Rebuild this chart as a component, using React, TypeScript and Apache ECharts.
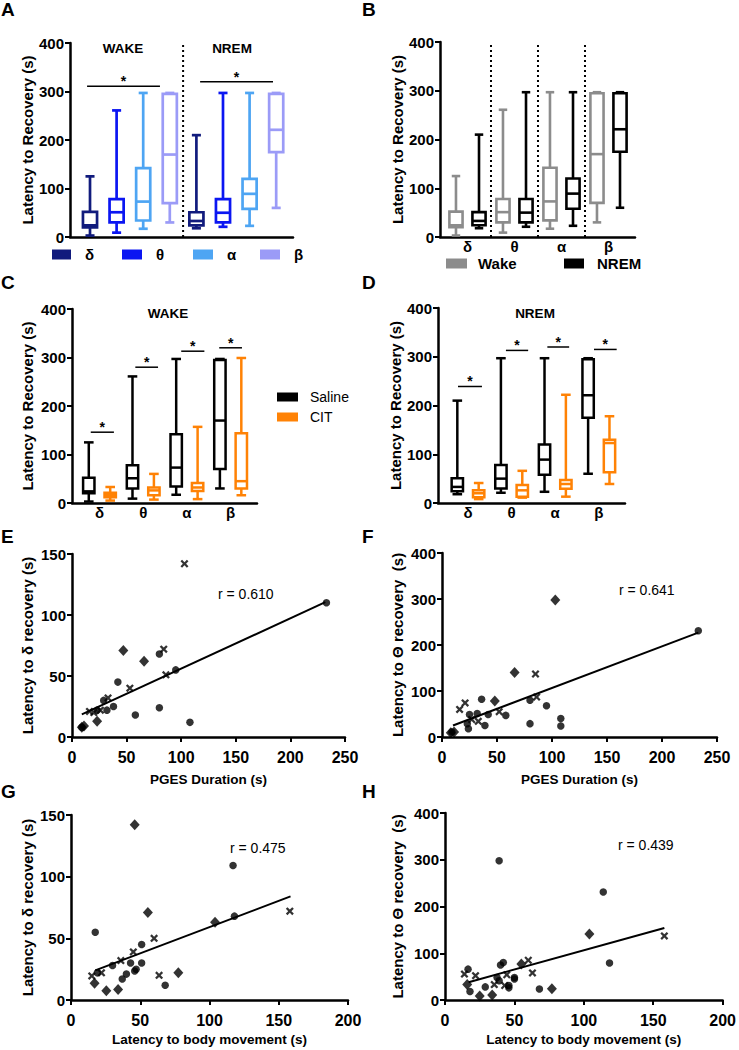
import React, { useEffect, useRef } from "react";
import * as echarts from "echarts";

const FONT = "'Liberation Sans', Arial, Helvetica, sans-serif";

// ---------- Box plot data: [min, q1, median, q3, max] for δ, θ, α, β ----------
const bandNames = ["δ", "θ", "α", "β"];
const wakeSaline = [
  [3, 20, 24, 52, 125],
  [9, 30, 51, 78, 261],
  [17, 34, 73, 142, 297],
  [30, 70, 170, 295, 297],
];
const nremSaline = [
  [18, 24, 33, 51, 210],
  [21, 30, 50, 78, 297],
  [23, 58, 89, 120, 297],
  [60, 175, 221, 295, 297],
];
const wakeCIT = [
  [5, 12, 17, 21, 33],
  [7, 16, 26, 32, 60],
  [8, 25, 32, 41, 157],
  [16, 30, 45, 144, 299],
];
const nremCIT = [
  [8, 12, 20, 26, 41],
  [11, 13, 26, 37, 66],
  [13, 29, 39, 47, 222],
  [39, 63, 123, 130, 178],
];

// significance bars: [xStart, xEnd, y]
const sigA = [
  [-0.11, 2.63, 311],
  [4.14, 6.88, 320],
];
const sigC = [
  [0.8, 1.33, 146],
  [1.82, 2.34, 280],
  [2.87, 3.4, 313],
  [3.74, 4.26, 320],
];
const sigD = [
  [0.77, 1.32, 239],
  [1.87, 2.38, 313],
  [2.82, 3.32, 320],
  [3.89, 4.41, 315],
];
const sepA = [3.5];
const sepB = [1.5, 2.5, 3.5];

// ---------- Scatter data: [x, y] ----------
const eCircles = [[233, 110], [80, 68], [95, 55], [42, 45], [38, 25], [32, 22], [58, 18], [80, 24], [108, 12], [29, 30], [23, 22], [9, 8]];
const eDiamonds = [[47, 71], [66, 62], [23, 13], [9, 8], [11, 9]];
const eCrosses = [[103, 142], [84, 72], [86, 51], [53, 40], [33, 32], [16, 21], [26, 22], [20, 20]];
const eFit = [[9, 18.5], [232, 110.5]];

const fCircles = [[233, 231], [36, 82], [80, 80], [95, 68], [42, 49], [58, 47], [32, 51], [25, 49], [39, 25], [80, 29], [108, 40], [108, 24], [23, 29], [24, 18], [9, 11]];
const fDiamonds = [[103, 298], [66, 140], [48, 78], [11, 11], [8, 9]];
const fCrosses = [[85, 137], [86, 87], [52, 55], [21, 74], [16, 60], [33, 34], [27, 38]];
const fFit = [[10, 25], [233, 227]];

const gCircles = [[117, 109], [17.5, 55], [51, 45], [118, 68], [30, 28], [19, 22], [37, 17], [40, 21], [43, 30], [51, 30], [46, 23.5], [47, 25], [68, 12]];
const gDiamonds = [[46, 142], [55.5, 71], [104, 63], [17, 13.5], [25.5, 7.6], [34, 8.6], [77.5, 22]];
const gCrosses = [[158, 72], [60, 50], [45, 39], [36, 32], [22, 22], [15, 19.5], [63.6, 20]];
const gFit = [[17.5, 24], [158.5, 84]];

const hCircles = [[39, 298], [114, 231], [118.5, 79], [16.6, 66], [42, 80], [40, 75], [18, 18], [29, 28], [50, 48], [50, 45], [68, 23.5], [46, 26], [46, 31], [37.5, 48], [39, 41]];
const hDiamonds = [[104, 141], [55, 77], [77, 24], [16, 33], [25, 8.5], [34, 10.7]];
const hCrosses = [[158, 137], [60, 85], [63, 58], [44.5, 54], [14, 55.5], [22, 52], [35.5, 33], [43, 31]];
const hFit = [[17, 38], [158, 154]];

// ---------- styles ----------
const bandColors = ["#111b7d", "#0b16f2", "#4ea5f3", "#9b9bf7"];
const GRAY = "#8c8c8c";
const ORANGE = "#ff8205";
const CROSS = "path://M0,1.6L1.6,0L4,2.4L6.4,0L8,1.6L5.6,4L8,6.4L6.4,8L4,5.6L1.6,8L0,6.4L2.4,4Z";

const boxItem = (boxW: number, capW: number, lw: number) => (_p: any, api: any) => {
  const x = api.value(0);
  const v = [1, 2, 3, 4, 5].map((i) => api.value(i));
  const c = api.visual("color");
  const y = (val: number) => api.coord([x, val])[1];
  const cx = api.coord([x, v[0]])[0];
  const yMin = y(v[0]), yQ1 = y(v[1]), yMd = y(v[2]), yQ3 = y(v[3]), yMax = y(v[4]);
  const w = api.size([boxW, 0])[0];
  const cw = api.size([capW, 0])[0];
  const st = { stroke: c, lineWidth: lw, fill: null };
  return {
    type: "group",
    children: [
      { type: "line", shape: { x1: cx, y1: yMax, x2: cx, y2: yQ3 }, style: st },
      { type: "line", shape: { x1: cx, y1: yQ1, x2: cx, y2: yMin }, style: st },
      { type: "line", shape: { x1: cx - cw / 2, y1: yMax, x2: cx + cw / 2, y2: yMax }, style: st },
      { type: "line", shape: { x1: cx - cw / 2, y1: yMin, x2: cx + cw / 2, y2: yMin }, style: st },
      { type: "rect", shape: { x: cx - w / 2, y: yQ3, width: w, height: yQ1 - yQ3 }, style: { fill: "#fff", stroke: c, lineWidth: lw } },
      { type: "line", shape: { x1: cx - w / 2, y1: yMd, x2: cx + w / 2, y2: yMd }, style: st },
    ],
  };
};

const sigItem = (_p: any, api: any) => {
  const a = api.coord([api.value(0), api.value(2)]);
  const b = api.coord([api.value(1), api.value(2)]);
  return {
    type: "group",
    children: [
      { type: "line", shape: { x1: a[0], y1: a[1], x2: b[0], y2: b[1] }, style: { stroke: "#000", lineWidth: 1.5 } },
      { type: "text", x: (a[0] + b[0]) / 2, y: a[1] - 5, style: { text: "*", fill: "#000", font: `bold 14px ${FONT}`, align: "center", verticalAlign: "middle" } },
    ],
  };
};

const sepItem = (_p: any, api: any) => {
  const x = api.value(0);
  const a = api.coord([x, 0]);
  const b = api.coord([x, 400]);
  return { type: "line", shape: { x1: a[0], y1: a[1], x2: b[0], y2: b[1] }, style: { stroke: "#000", lineWidth: 2, lineDash: [2, 3] } };
};

const axisLine = { show: true, onZero: false, lineStyle: { color: "#000", width: 2.5 } };
const tick = { show: true, length: 5, lineStyle: { color: "#000", width: 2 } };
const boldLabel = (size: number, margin: number) => ({ fontFamily: FONT, fontWeight: "bold", fontSize: size, color: "#000", margin });

const yAx = (gi: number, max: number, interval: number, name: string, gap: number) => ({
  type: "value", gridIndex: gi, min: 0, max, interval, name, nameLocation: "middle", nameGap: gap, nameRotate: 90,
  nameTextStyle: { fontFamily: FONT, fontWeight: "bold", fontSize: 15, color: "#000" },
  axisLine, axisTick: tick, axisLabel: boldLabel(15, 6), splitLine: { show: false },
});
const xBox = (gi: number, min: number, max: number, labels: boolean) => ({
  type: "value", gridIndex: gi, min, max, axisLine, axisTick: { show: false },
  axisLabel: labels
    ? { ...boldLabel(15, 2), customValues: [1, 2, 3, 4], formatter: (v: number) => bandNames[Math.round(v) - 1] }
    : { show: false },
  splitLine: { show: false },
});
const xSc = (gi: number, max: number, name: string, gap: number) => ({
  type: "value", gridIndex: gi, min: 0, max, interval: 50, name, nameLocation: "middle", nameGap: gap,
  nameTextStyle: { fontFamily: FONT, fontWeight: "bold", fontSize: 13.5, color: "#000" },
  axisLine, axisTick: tick, axisLabel: boldLabel(16, 12), splitLine: { show: false },
});

const boxSeries = (name: string, color: string, gi: number, data: number[][], w: number, cap: number, lw: number) => ({
  type: "custom", name, xAxisIndex: gi, yAxisIndex: gi, itemStyle: { color }, renderItem: boxItem(w, cap, lw), data, z: 3,
});
const sigSeries = (gi: number, data: number[][]) => ({ type: "custom", xAxisIndex: gi, yAxisIndex: gi, renderItem: sigItem, data, z: 4 });
const sepSeries = (gi: number, xs: number[]) => ({ type: "custom", xAxisIndex: gi, yAxisIndex: gi, renderItem: sepItem, data: xs.map((x) => [x, 0]), z: 2 });

const scatterSet = (gi: number, circles: number[][], diamonds: number[][], crosses: number[][], fit: number[][]) => [
  { type: "line", xAxisIndex: gi, yAxisIndex: gi, data: fit, symbol: "none", lineStyle: { color: "#000", width: 2 }, z: 2 },
  { type: "scatter", xAxisIndex: gi, yAxisIndex: gi, data: circles, symbol: "circle", symbolSize: 7.5, itemStyle: { color: "#000" }, z: 3 },
  { type: "scatter", xAxisIndex: gi, yAxisIndex: gi, data: diamonds, symbol: "diamond", symbolSize: [10, 11], itemStyle: { color: "#000" }, z: 3 },
  { type: "scatter", xAxisIndex: gi, yAxisIndex: gi, data: crosses, symbol: CROSS, symbolSize: 8, itemStyle: { color: "#000" }, z: 3 },
];

const legendItem = (name: string, left: number, top: number, bold: boolean, size: number, w: number, h: number, pad: number) => ({
  data: [{ name, icon: "rect" }], left, top, padding: 0, itemWidth: w, itemHeight: h, selectedMode: false,
  textStyle: { fontFamily: FONT, fontWeight: bold ? "bold" : "normal", fontSize: size, color: "#000", padding: [0, 0, 0, pad] },
});

const txt = (text: string, x: number, y: number, size: number, bold: boolean, align = "left") => ({
  type: "text", x, y, style: { text, fill: "#000", font: `${bold ? "bold " : ""}${size}px ${FONT}`, align, verticalAlign: "middle" },
});

const OFF = 0.245;

const option: any = {
  animation: false,
  backgroundColor: "#fff",
  textStyle: { fontFamily: FONT },
  grid: [
    { left: 70, top: 43, width: 223, height: 194 },
    { left: 440, top: 42, width: 195, height: 195 },
    { left: 72, top: 309, width: 185, height: 194 },
    { left: 438, top: 308, width: 187, height: 195 },
    { left: 72, top: 554, width: 273, height: 183 },
    { left: 442, top: 553, width: 275, height: 184 },
    { left: 71, top: 815, width: 277, height: 185 },
    { left: 445, top: 813, width: 282, height: 187 },
  ],
  xAxis: [
    xBox(0, -0.752, 7.632, false),
    xBox(1, 0.415, 4.564, true),
    xBox(2, 0.371, 4.604, true),
    xBox(3, 0.312, 4.601, true),
    xSc(4, 250, "PGES Duration (s)", 35),
    xSc(5, 250, "PGES Duration (s)", 35),
    xSc(6, 200, "Latency to body movement (s)", 32),
    xSc(7, 200, "Latency to body movement (s)", 32),
  ],
  yAxis: [
    yAx(0, 400, 100, "Latency to Recovery (s)", 35),
    yAx(1, 400, 100, "Latency to Recovery (s)", 35.5),
    yAx(2, 400, 100, "Latency to Recovery (s)", 37.5),
    yAx(3, 400, 100, "Latency to Recovery (s)", 35.5),
    yAx(4, 150, 50, "Latency to δ recovery (s)", 37.5),
    yAx(5, 400, 100, "Latency to Θ recovery  (s)", 37.5),
    yAx(6, 150, 50, "Latency to δ recovery (s)", 36.5),
    yAx(7, 400, 100, "Latency to Θ recovery  (s)", 40),
  ],
  legend: [
    legendItem("δ", 52, 247, true, 15, 19, 10, 9),
    legendItem("θ", 122, 247, true, 15, 20, 10, 9),
    legendItem("α", 193, 247, true, 15, 20, 10, 9),
    legendItem("β", 260, 247, true, 15, 20, 10, 9),
    legendItem("Wake", 446, 256, true, 15, 21, 10, 6),
    legendItem("NREM", 564, 256, true, 15, 20, 10, 8),
    legendItem("Saline", 277, 390, false, 14, 21, 9, 7),
    legendItem("CIT", 277, 410, false, 14, 21, 9, 7),
  ],
  series: [
    // A
    ...bandNames.map((n, k) =>
      boxSeries(n, bandColors[k], 0, [[k, ...wakeSaline[k]], [k + 4, ...nremSaline[k]]], 0.53, 0.34, 2.7)
    ),
    sepSeries(0, sepA),
    sigSeries(0, sigA),
    // B
    boxSeries("Wake", GRAY, 1, wakeSaline.map((d, i) => [i + 1 - OFF, ...d]), 0.28, 0.18, 2.6),
    boxSeries("NREM", "#000", 1, nremSaline.map((d, i) => [i + 1 + OFF, ...d]), 0.28, 0.18, 2.6),
    sepSeries(1, sepB),
    // C
    boxSeries("Saline", "#000", 2, wakeSaline.map((d, i) => [i + 1 - OFF, ...d]), 0.26, 0.22, 2.5),
    boxSeries("CIT", ORANGE, 2, wakeCIT.map((d, i) => [i + 1 + OFF, ...d]), 0.26, 0.22, 2.5),
    sigSeries(2, sigC),
    // D
    boxSeries("Saline", "#000", 3, nremSaline.map((d, i) => [i + 1 - OFF, ...d]), 0.26, 0.22, 2.5),
    boxSeries("CIT", ORANGE, 3, nremCIT.map((d, i) => [i + 1 + OFF, ...d]), 0.26, 0.22, 2.5),
    sigSeries(3, sigD),
    // E-H
    ...scatterSet(4, eCircles, eDiamonds, eCrosses, eFit),
    ...scatterSet(5, fCircles, fDiamonds, fCrosses, fFit),
    ...scatterSet(6, gCircles, gDiamonds, gCrosses, gFit),
    ...scatterSet(7, hCircles, hDiamonds, hCrosses, hFit),
  ],
  graphic: {
    elements: [
      txt("A", 1, 9, 19, true),
      txt("B", 362, 9, 19, true),
      txt("C", 1, 282, 19, true),
      txt("D", 362, 282, 19, true),
      txt("E", 1, 536, 19, true),
      txt("F", 362, 536, 19, true),
      txt("G", 1, 791, 19, true),
      txt("H", 362, 791, 19, true),
      txt("WAKE", 123, 48, 13.5, true, "center"),
      txt("NREM", 232, 48, 13.5, true, "center"),
      txt("WAKE", 168, 313, 13.5, true, "center"),
      txt("NREM", 535, 313, 13.5, true, "center"),
      txt("r = 0.610", 218, 594, 14, false),
      txt("r = 0.641", 619, 590, 14, false),
      txt("r = 0.475", 230, 848, 14, false),
      txt("r = 0.439", 618, 845, 14, false),
    ],
  },
};

export default function App() {
  const ref = useRef<HTMLDivElement>(null);
  useEffect(() => {
    document.body.style.margin = "0";
    const chart = echarts.init(ref.current as HTMLDivElement, null, { renderer: "svg" });
    chart.setOption(option);
    return () => chart.dispose();
  }, []);
  return <div ref={ref} style={{ width: 739, height: 1050 }} />;
}
